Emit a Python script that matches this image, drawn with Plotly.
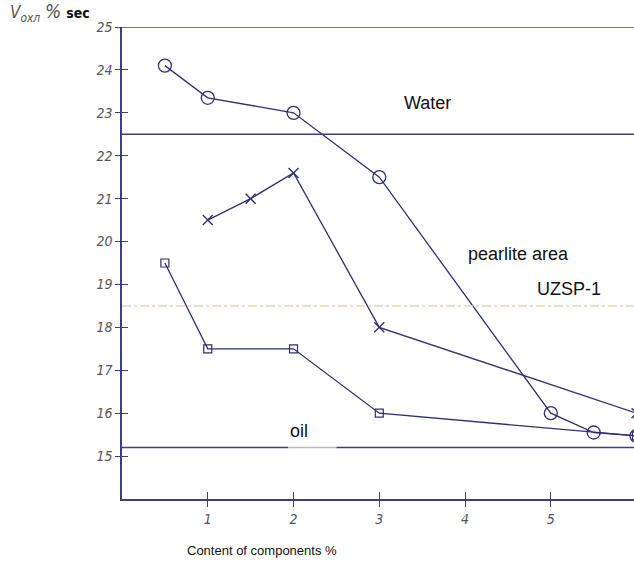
import plotly.graph_objects as go

# ---- data ----
circle_x = [0.5, 1, 2, 3, 5, 5.5, 6]
circle_y = [24.1, 23.35, 23.0, 21.5, 16.0, 15.55, 15.47]
cross_x = [1, 1.5, 2, 3, 6]
cross_y = [20.5, 21.0, 21.6, 18.0, 16.0]
square_x = [0.5, 1, 2, 3, 6]
square_y = [19.5, 17.5, 17.5, 16.0, 15.47]

water_level = 22.5
oil_level = 15.2
uzsp_level = 18.5

x_ticks = [1, 2, 3, 4, 5, 6]
y_ticks = [15, 16, 17, 18, 19, 20, 21, 22, 23, 24, 25]

NAVY = "#2f2f72"
AXIS = "#3d3d82"
TICKFONT = dict(family="Liberation Sans Narrow, DejaVu Sans Condensed, sans-serif",
                size=14, color="#555555", style="italic")

fig = go.Figure()

line_style = dict(color=NAVY, width=1.3)
fig.add_trace(go.Scatter(x=circle_x, y=circle_y, mode="lines+markers", line=line_style,
                         marker=dict(symbol="circle-open", size=13, color=NAVY, line=dict(width=1.3))))
fig.add_trace(go.Scatter(x=cross_x, y=cross_y, mode="lines+markers", line=line_style,
                         marker=dict(symbol="x-thin-open", size=10, color=NAVY, line=dict(width=1.4, color=NAVY))))
fig.add_trace(go.Scatter(x=square_x, y=square_y, mode="lines+markers", line=line_style,
                         marker=dict(symbol="square-open", size=8, color=NAVY, line=dict(width=1.2))))
# transparent trace for the overlay axes (inside halves of the crossing ticks)
fig.add_trace(go.Scatter(x=[1], y=[15], xaxis="x2", yaxis="y2", mode="markers",
                         marker=dict(opacity=0, size=1), showlegend=False, hoverinfo="skip"))

XR = [0, 5.97]
YR = [14, 25]

fig.update_layout(
    width=634, height=562,
    margin=dict(l=122, r=0, t=27, b=63),
    paper_bgcolor="white", plot_bgcolor="rgba(0,0,0,0)",
    showlegend=False,
    xaxis=dict(range=XR, tickvals=x_ticks, ticktext=[str(v) for v in x_ticks],
               showgrid=False, zeroline=False, showline=True, linecolor=AXIS, linewidth=1.5,
               ticks="outside", ticklen=6, tickwidth=1.3, tickcolor=AXIS, tickfont=TICKFONT),
    yaxis=dict(range=YR, tickvals=y_ticks, ticktext=[str(v) for v in y_ticks],
               showgrid=False, zeroline=False, showline=True, linecolor=AXIS, linewidth=1.5,
               ticks="outside", ticklen=5, tickwidth=1.3, tickcolor=AXIS, tickfont=TICKFONT),
    xaxis2=dict(range=XR, overlaying="x", tickvals=x_ticks, showticklabels=False,
                showgrid=False, zeroline=False, showline=False,
                ticks="inside", ticklen=7, tickwidth=1.3, tickcolor=AXIS, side="bottom"),
    yaxis2=dict(range=YR, overlaying="y", tickvals=y_ticks[:-1], showticklabels=False,
                showgrid=False, zeroline=False, showline=False,
                ticks="inside", ticklen=6, tickwidth=1.3, tickcolor=AXIS, side="left"),
)

# frame top line
fig.add_shape(type="line", xref="x domain", yref="y", x0=0, x1=1, y0=25, y1=25,
              line=dict(color=AXIS, width=1.5))
# water line
fig.add_shape(type="line", xref="x domain", yref="y", x0=0, x1=1, y0=water_level, y1=water_level,
              line=dict(color=AXIS, width=1.5))
# oil line with light gap under label
fig.add_shape(type="line", xref="x", yref="y", x0=0, x1=1.94, y0=oil_level, y1=oil_level,
              line=dict(color=AXIS, width=1.5))
fig.add_shape(type="line", xref="x", yref="y", x0=1.94, x1=2.5, y0=oil_level, y1=oil_level,
              line=dict(color="#b8b8c4", width=1.5))
fig.add_shape(type="line", xref="x", yref="y", x0=2.5, x1=XR[1], y0=oil_level, y1=oil_level,
              line=dict(color=AXIS, width=1.5))
# UZSP-1 dash-dot line
fig.add_shape(type="line", xref="x domain", yref="y", x0=0, x1=1, y0=uzsp_level, y1=uzsp_level,
              line=dict(color="#e3d6b8", width=1.5, dash="dashdot"))

label_font = dict(family="Liberation Sans, Arial, sans-serif", size=18, color="#111111")
fig.add_annotation(x=3.27, y=23.22, text="Water", showarrow=False, xanchor="left", yanchor="middle", font=label_font)
fig.add_annotation(x=4.01, y=19.72, text="pearlite area", showarrow=False, xanchor="left", yanchor="middle", font=label_font)
fig.add_annotation(x=4.81, y=18.9, text="UZSP-1", showarrow=False, xanchor="left", yanchor="middle", font=label_font)
fig.add_annotation(x=1.94, y=15.58, text="oil", showarrow=False, xanchor="left", yanchor="middle", font=label_font)

# axis titles
fig.add_annotation(xref="paper", yref="paper", x=(262 - 122) / 512, y=-0.11, xanchor="center", yanchor="middle",
                   text="Content of components %", showarrow=False,
                   font=dict(family="Liberation Sans, Arial, sans-serif", size=13, color="#111111"))
fig.add_annotation(xref="paper", yref="paper", x=-0.222, y=1.0, xanchor="left", yanchor="bottom",
                   text="<i>V</i><sub><i>охл</i></sub> <span style='font-size:19px'><i>%</i></span> "
                        "<span style='font-size:14px;color:#111111'><b>sec</b></span>",
                   showarrow=False,
                   font=dict(family="DejaVu Sans Condensed, Liberation Sans Narrow, sans-serif", size=17, color="#555555"))

fig.write_html("out.html", config={"displayModeBar": False},
               post_script="document.body.style.margin='0';document.body.style.overflow='hidden';")
